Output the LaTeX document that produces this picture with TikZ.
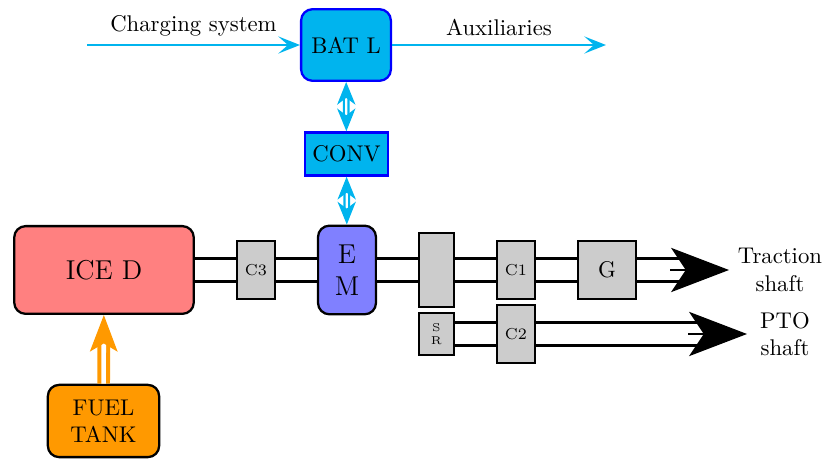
\documentclass[tikz,border=0pt]{standalone}
\usetikzlibrary{arrows.meta}
\definecolor{batcyan}{RGB}{0,180,238}
\definecolor{fuelorange}{RGB}{255,153,0}
\tikzset{
  unit/.style={draw,line width=1pt,rounded corners=5pt,align=center,inner sep=0pt},
  gbox/.style={draw,line width=1pt,fill=gray!40,inner sep=0pt,align=center},
  shaft/.style={double,double distance=8.8pt,line width=1.3pt},
  elec/.style={batcyan,line width=1.1pt,-{Stealth[length=9.5pt,width=7.5pt,inset=4.2pt]}},
  link/.style={batcyan,double,double distance=1pt,line width=1pt,{Stealth[length=10pt,width=8pt,inset=3pt]}-{Stealth[length=10pt,width=8pt,inset=3pt]}},
  fuel/.style={fuelorange,double,double distance=2pt,line width=1.8pt,-{Stealth[length=16pt,width=12pt,inset=3.5pt]}},
  bigtip/.style={line width=0.5pt,-{Stealth[length=25.5pt,width=19.5pt,inset=6.5pt]}}
}
\begin{document}
\begin{tikzpicture}[x=0.44pt,y=-0.44pt]
\useasboundingbox (0,0) rectangle (824,462);
% units
\node[unit,fill=batcyan,draw=blue,minimum width=39.5pt,minimum height=31.5pt] (bat) at (346,45) {BAT L};
\node[unit,rounded corners=0pt,fill=batcyan,draw=blue,minimum width=36.5pt,minimum height=19pt] (conv) at (346.5,154) {CONV};
\node[unit,font=\large,fill=red!50,minimum width=79pt,minimum height=38.6pt] (ice) at (104,270) {ICE D};
\node[unit,font=\large,fill=blue!50,minimum width=25.5pt,minimum height=39pt] (em) at (347,270) {E\\M};
\node[unit,fill=fuelorange,minimum width=49pt,minimum height=31.8pt] (tank) at (103.5,421) {FUEL\\TANK};
% gearbox parts
\node[gbox,font=\scriptsize,minimum width=16.8pt,minimum height=25.6pt] (c3) at (256,270) {C3};
\node[gbox,minimum width=15.5pt,minimum height=32.6pt] (split) at (436.5,270) {};
\node[gbox,font=\tiny,minimum width=15.5pt,minimum height=18.6pt] (sr) at (436.5,334) {S\\R};
\node[gbox,font=\scriptsize,minimum width=16.8pt,minimum height=25.6pt] (c1) at (516,270) {C1};
\node[gbox,font=\scriptsize,minimum width=16.8pt,minimum height=25.6pt] (c2) at (516,334) {C2};
\node[gbox,minimum width=25.6pt,minimum height=25.6pt] (g) at (607,270) {G};
\node[align=center] (trac) at (780,270) {Traction\\shaft};
\node[align=center] (pto) at (785,334) {PTO\\shaft};
\coordinate (chg) at (87,45);
\coordinate (aux) at (606,45);
\coordinate (trend) at (686,270);
\coordinate (trback) at (670,270);
\coordinate (trtip) at (729,270);
\coordinate (ptoend) at (704,334);
\coordinate (ptoback) at (688,334);
\coordinate (ptotip) at (747,334);
% electric side
\draw[elec] (chg) -- node[above,text=black]{Charging system} (bat);
\draw[elec] (bat) -- node[above,text=black]{Auxiliaries} (aux);
\draw[link] (bat) -- (conv);
\draw[link] (conv) -- (em);
\draw[fuel] (tank) -- (ice);
% shafts
\draw[shaft] (ice) -- (c3);
\draw[shaft] (c3) -- (em);
\draw[shaft] (em) -- (split);
\draw[shaft] (split) -- (c1);
\draw[shaft] (c1) -- (g);
\draw[shaft] (g) -- (trend);
\draw[bigtip] (trback) -- (trtip);
\draw[shaft] (sr) -- (c2);
\draw[shaft] (c2) -- (ptoend);
\draw[bigtip] (ptoback) -- (ptotip);
\end{tikzpicture}
\end{document}
